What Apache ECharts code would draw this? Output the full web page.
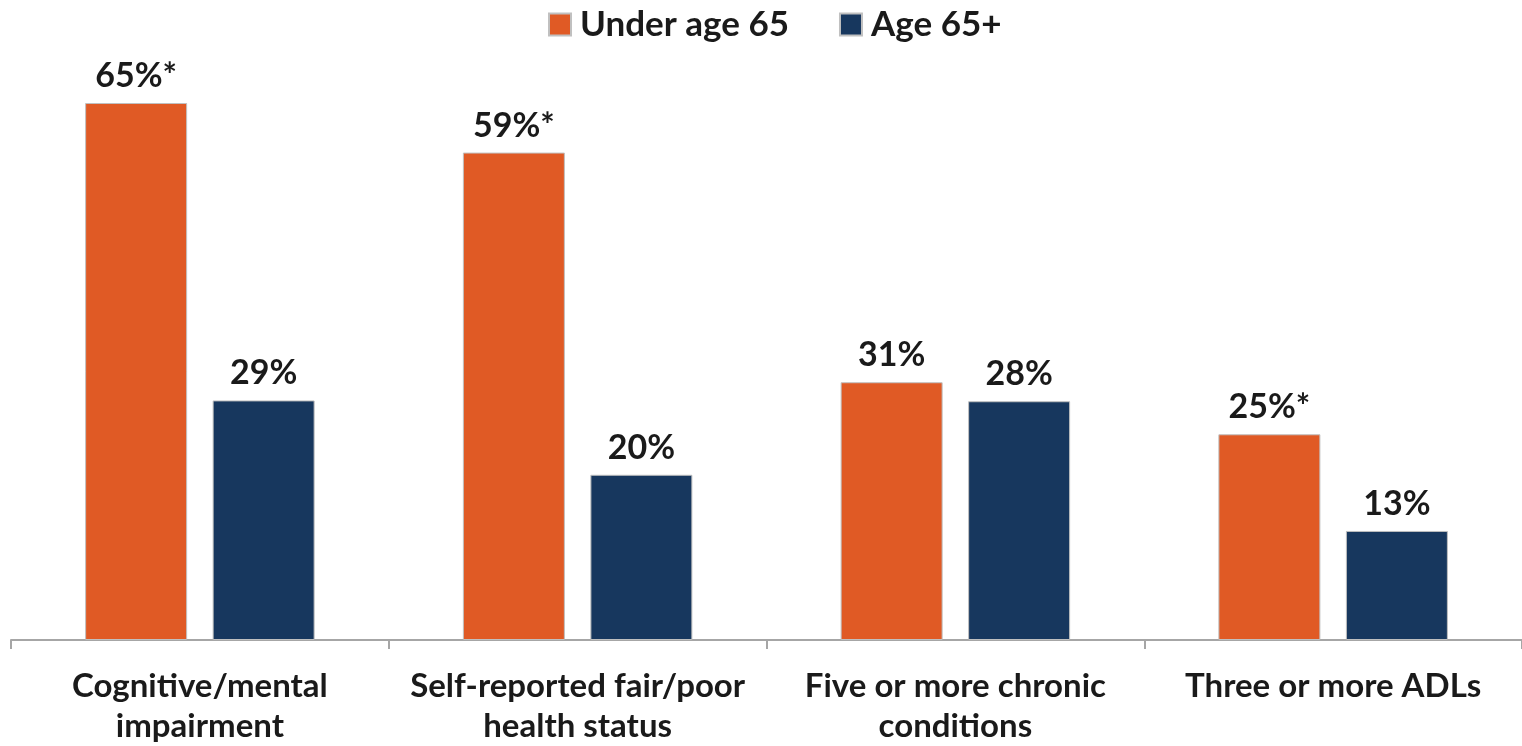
<!DOCTYPE html>
<html>
<head>
<meta charset="utf-8">
<script src="https://cdn.jsdelivr.net/npm/echarts@6/dist/echarts.min.js"></script>
<style>html,body{margin:0;padding:0;background:#fff}#chart{width:1522px;height:746px}</style>
</head>
<body>
<div id="chart"></div>
<script>
const categories = ['Cognitive/mental\nimpairment', 'Self-reported fair/poor\nhealth status', 'Five or more chronic\nconditions', 'Three or more ADLs'];
const seriesNames = ['Under age 65', 'Age 65+'];
const under65 = [65, 59, 31.2, 24.9];
const age65plus = [29, 20, 28.9, 13.2];
const under65Labels = ['65%*', '59%*', '31%', '25%*'];
const age65Labels = ['29%', '20%', '28%', '13%'];

const chart = echarts.init(document.getElementById('chart'));
const font = 'Lato, "Open Sans", sans-serif';
const labelStyle = (labels) => ({
  show: true,
  position: 'top',
  distance: 10,
  fontFamily: font,
  fontWeight: 'bold',
  fontSize: 34,
  color: '#1a1a1a',
  formatter: p => labels[p.dataIndex]
});
chart.setOption({
  animation: false,
  legend: {
    top: 2,
    left: 543,
    itemWidth: 22,
    itemHeight: 22,
    itemGap: 50,
    icon: 'rect',
    textStyle: { fontFamily: font, fontWeight: 'bold', fontSize: 35, color: '#1a1a1a', padding: [0, 0, 0, 4] },
    data: seriesNames
  },
  grid: { left: 11, right: -14, top: 103, bottom: 105, containLabel: false },
  xAxis: {
    type: 'category',
    data: categories,
    axisLine: { lineStyle: { color: '#a6a6a6', width: 2 } },
    axisTick: { show: true, length: 9, lineStyle: { color: '#a6a6a6', width: 2 } },
    axisLabel: { fontFamily: font, fontWeight: 'bold', fontSize: 33, color: '#1a1a1a', lineHeight: 40, margin: 26, interval: 0 }
  },
  yAxis: { type: 'value', min: 0, max: 65, show: false, splitLine: { show: false } },
  series: [
    {
      name: seriesNames[0], type: 'bar', data: under65, barWidth: 102, barGap: '25%',
      itemStyle: { color: '#E05A25', borderColor: '#c0c0c0', borderWidth: 1 },
      label: labelStyle(under65Labels)
    },
    {
      name: seriesNames[1], type: 'bar', data: age65plus, barWidth: 102,
      itemStyle: { color: '#17375E', borderColor: '#c0c0c0', borderWidth: 1 },
      label: labelStyle(age65Labels)
    }
  ]
});
</script>
</body>
</html>
